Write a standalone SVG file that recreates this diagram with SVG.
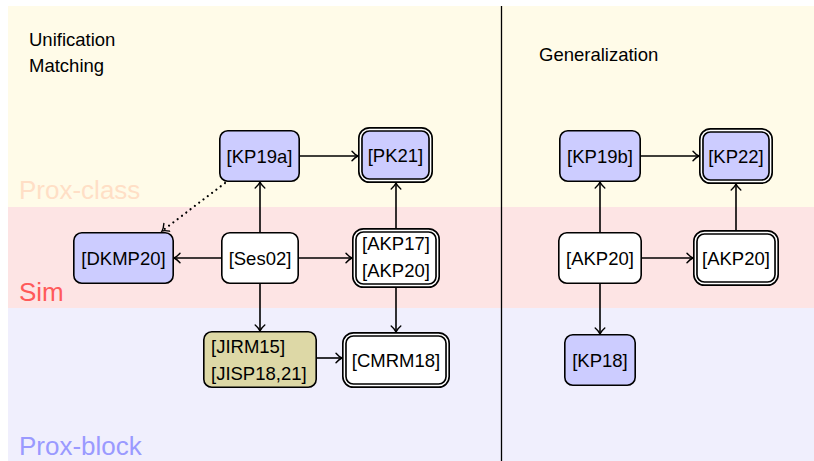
<svg xmlns="http://www.w3.org/2000/svg" width="814" height="461" viewBox="0 0 814 461">
<defs>
<style>
text{font-family:"Liberation Sans",Arial,Helvetica,sans-serif;font-size:18.5px;fill:#000}
.band{font-size:26px}
.n{stroke:#000;stroke-width:1.6}
.blue{fill:#ccccff}
.white{fill:#ffffff}
.khaki{fill:#ddd8a6}
.dbo{stroke:#000;stroke-width:4.8}
.dbi{fill:none;stroke:#fff;stroke-width:1.5}
.c{text-anchor:middle}
.e{fill:none;stroke:#000;stroke-width:1.6;marker-end:url(#arr)}
.dot{stroke-dasharray:0.01 5.4;stroke-linecap:round;stroke-width:2.2}
</style>
<marker id="arr" viewBox="-7 -6 9 12" refX="0" refY="0" markerWidth="9" markerHeight="12" markerUnits="userSpaceOnUse" orient="auto">
<path d="M-6,-4.8 C-3.5,-1.9 -1.3,-0.5 0,0 C-1.3,0.5 -3.5,1.9 -6,4.8" fill="none" stroke="#000" stroke-width="1.4" stroke-linecap="round"/>
</marker>
</defs>

<g id="background">
<rect x="8" y="6" width="806" height="201" fill="#fffbe8"/>
<rect x="8" y="207" width="806" height="101" fill="#fde4e4"/>
<rect x="8" y="308" width="806" height="153" fill="#f0effd"/>
<line x1="501.5" y1="6" x2="501.5" y2="461" stroke="#000" stroke-width="1.3"/>
<text x="29" y="46">Unification</text>
<text x="29" y="72">Matching</text>
<text x="539" y="61">Generalization</text>
<text class="band" x="19" y="199" style="fill:#ffdfc6">Prox-class</text>
<text class="band" x="19" y="301" style="fill:#ff5a5a">Sim</text>
<text class="band" x="19" y="455" style="fill:#9a9aff">Prox-block</text>
</g>

<g id="connectors">
<path class="e" d="M300,156 H358"/>
<path class="e" d="M260,232 V182"/>
<path class="e" d="M221,258 H174"/>
<path class="e" d="M299,258 H352"/>
<path class="e" d="M260,284 V331"/>
<path class="e" d="M396,228 V183"/>
<path class="e" d="M396,288 V332"/>
<path class="e" d="M317,358 H342"/>
<path class="e dot" d="M225,183 L162,231"/>
<path class="e" d="M641,156 H699"/>
<path class="e" d="M600,232 V182"/>
<path class="e" d="M642,258 H693"/>
<path class="e" d="M736,230 V184"/>
<path class="e" d="M600,284 V334"/>
</g>

<g id="KP19a">
<rect class="n blue" x="219.8" y="130.8" width="79.4" height="50.4" rx="8"/>
<text class="c" x="259.5" y="162.5">[KP19a]</text>
</g>
<g id="PK21">
<rect class="dbo blue" x="360.4" y="129.4" width="70.2" height="51.2" rx="9"/>
<rect class="dbi" x="360.4" y="129.4" width="70.2" height="51.2" rx="9"/>
<text class="c" x="395.5" y="161.5">[PK21]</text>
</g>
<g id="DKMP20">
<rect class="n blue" x="73.8" y="232.8" width="99.4" height="50.4" rx="8"/>
<text class="c" x="123.5" y="264.5">[DKMP20]</text>
</g>
<g id="Ses02">
<rect class="n white" x="221.8" y="232.8" width="76.4" height="50.4" rx="8"/>
<text class="c" x="260" y="264.5">[Ses02]</text>
</g>
<g id="AKP17-AKP20">
<rect class="dbo white" x="354.4" y="230.4" width="83.2" height="55.2" rx="9"/>
<rect class="dbi" x="354.4" y="230.4" width="83.2" height="55.2" rx="9"/>
<text x="362" y="249.5">[AKP17]</text>
<text x="362" y="276.5">[AKP20]</text>
</g>
<g id="JIRM15-JISP18">
<rect class="n khaki" x="203.8" y="331.8" width="112.4" height="55.4" rx="8"/>
<text x="211" y="352.5">[JIRM15]</text>
<text x="211" y="379.5">[JISP18,21]</text>
</g>
<g id="CMRM18">
<rect class="dbo white" x="344.4" y="334.4" width="103.2" height="51.2" rx="9"/>
<rect class="dbi" x="344.4" y="334.4" width="103.2" height="51.2" rx="9"/>
<text class="c" x="396" y="366.5">[CMRM18]</text>
</g>

<g id="KP19b">
<rect class="n blue" x="559.8" y="130.8" width="80.4" height="50.4" rx="8"/>
<text class="c" x="600" y="162.5">[KP19b]</text>
</g>
<g id="KP22">
<rect class="dbo blue" x="701.4" y="130.4" width="69.2" height="51.2" rx="9"/>
<rect class="dbi" x="701.4" y="130.4" width="69.2" height="51.2" rx="9"/>
<text class="c" x="736" y="162.5">[KP22]</text>
</g>
<g id="AKP20-left">
<rect class="n white" x="558.8" y="232.8" width="82.4" height="50.4" rx="8"/>
<text class="c" x="600" y="264.5">[AKP20]</text>
</g>
<g id="AKP20-right">
<rect class="dbo white" x="695.4" y="232.4" width="81.2" height="51.2" rx="9"/>
<rect class="dbi" x="695.4" y="232.4" width="81.2" height="51.2" rx="9"/>
<text class="c" x="736" y="264.5">[AKP20]</text>
</g>
<g id="KP18">
<rect class="n blue" x="564.8" y="334.8" width="70.4" height="50.4" rx="8"/>
<text class="c" x="600" y="366.5">[KP18]</text>
</g>
</svg>
